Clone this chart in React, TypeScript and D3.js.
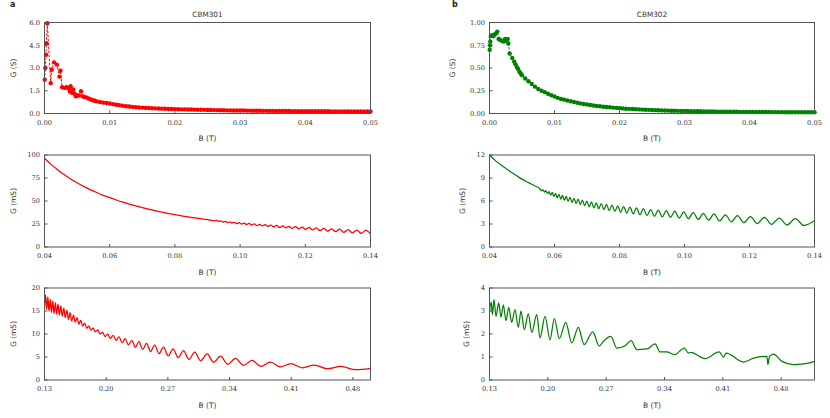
import React from "react";
import * as d3 from "d3";

// ---------- DATA ----------
// Panel a, top: CBM301, G (S) vs B (T), scattered points joined by a dashed line
const redTopB = [0.00003, 0.00012, 0.00023, 0.00028, 0.00043, 0.00095, 0.0011, 0.00146, 0.0019, 0.0023, 0.00245, 0.0027, 0.0031, 0.0034, 0.0037, 0.0039, 0.004, 0.0042, 0.0044, 0.0046, 0.0048, 0.0051, 0.0053, 0.0056, 0.0059, 0.0062, 0.0065, 0.0068, 0.0071, 0.0074, 0.0077];
const redTopG = [2.23, 3.0, 3.87, 4.64, 5.95, 2.0, 2.89, 3.37, 3.22, 2.43, 2.82, 1.73, 1.69, 1.73, 1.65, 1.44, 1.8, 1.36, 1.58, 1.3, 1.14, 1.2, 1.18, 1.47, 1.12, 1.08, 1.05, 0.98, 0.93, 0.88, 0.84];
const redTailStart = 0.008;
const redTailStep = 0.0005;
const redTailG = [0.8, 0.76, 0.72, 0.69, 0.66, 0.62, 0.58, 0.55, 0.51, 0.48, 0.46, 0.44, 0.42, 0.4, 0.39, 0.37, 0.36, 0.35, 0.34, 0.33, 0.32, 0.31, 0.3, 0.295, 0.29, 0.28, 0.275, 0.27, 0.265, 0.26, 0.255, 0.25, 0.245, 0.24, 0.235, 0.23, 0.225, 0.22, 0.215, 0.21, 0.208, 0.205, 0.202, 0.2, 0.197, 0.194, 0.19, 0.187, 0.184, 0.181, 0.178, 0.176, 0.174, 0.172, 0.17, 0.168, 0.166, 0.164, 0.162, 0.16, 0.158, 0.156, 0.155, 0.154, 0.152, 0.151, 0.15, 0.148, 0.147, 0.146, 0.145, 0.144, 0.142, 0.141, 0.14, 0.139, 0.138, 0.137, 0.136, 0.135, 0.134, 0.133, 0.132, 0.131, 0.13];

// Panel b, top: CBM302
const greenTopB = [0.00003, 0.00008, 0.00012, 0.0002, 0.0004, 0.0006, 0.0008, 0.001, 0.0012, 0.0014, 0.0016, 0.0019, 0.0022, 0.0024, 0.0026, 0.0028, 0.0029, 0.0031, 0.0035, 0.0038, 0.004, 0.0042, 0.0044, 0.0046, 0.0048];
const greenTopG = [0.7, 0.75, 0.79, 0.85, 0.86, 0.85, 0.87, 0.88, 0.9, 0.82, 0.81, 0.8, 0.79, 0.82, 0.8, 0.82, 0.77, 0.66, 0.61, 0.57, 0.54, 0.51, 0.49, 0.46, 0.44];
const greenTailStart = 0.005;
const greenTailStep = 0.0005;
const greenTailG = [0.42, 0.385, 0.355, 0.325, 0.295, 0.27, 0.25, 0.235, 0.217, 0.2, 0.186, 0.172, 0.16, 0.152, 0.143, 0.134, 0.126, 0.118, 0.111, 0.105, 0.099, 0.093, 0.088, 0.083, 0.079, 0.075, 0.071, 0.068, 0.065, 0.062, 0.059, 0.056, 0.053, 0.051, 0.049, 0.047, 0.045, 0.043, 0.041, 0.04, 0.038, 0.037, 0.036, 0.034, 0.033, 0.032, 0.031, 0.03, 0.029, 0.028, 0.027, 0.027, 0.026, 0.025, 0.025, 0.024, 0.023, 0.023, 0.022, 0.022, 0.021, 0.021, 0.02, 0.02, 0.019, 0.019, 0.019, 0.018, 0.018, 0.018, 0.017, 0.017, 0.017, 0.016, 0.016, 0.016, 0.016, 0.015, 0.015, 0.015, 0.015, 0.014, 0.014, 0.014, 0.014, 0.014, 0.013, 0.013, 0.013, 0.013, 0.013];

// Panel a, middle: G (mS), 0.04-0.14 T
const redMidB = [0.04, 0.042, 0.044, 0.046, 0.048, 0.05, 0.052, 0.054, 0.056, 0.058, 0.06, 0.062, 0.064, 0.066, 0.068, 0.07, 0.073, 0.076, 0.08, 0.085, 0.09,
  0.09223, 0.09286, 0.0935, 0.09415, 0.09481, 0.09548, 0.09616, 0.09685, 0.09755, 0.09826, 0.09898, 0.09971, 0.10045, 0.1012, 0.10197, 0.10274, 0.10353, 0.10433, 0.10514, 0.10597, 0.1068, 0.10765, 0.10852, 0.1094, 0.11029, 0.1112, 0.11212, 0.11306, 0.11401, 0.11498, 0.11597, 0.11697, 0.11799, 0.11903, 0.12009, 0.12117, 0.12227, 0.12338, 0.12452, 0.12568, 0.12685, 0.12806, 0.12928, 0.13053, 0.1318, 0.1331, 0.13443, 0.13578, 0.13715, 0.13856, 0.14];
const redMidG = [96.4, 89.8, 84.0, 78.7, 74.0, 69.8, 65.9, 62.4, 59.2, 56.2, 53.6, 51.1, 48.8, 46.6, 44.7, 42.8, 40.3, 38.0, 35.3, 32.3, 29.7,
  28.3, 28.85, 27.75, 28.4, 27.15, 27.9, 26.55, 27.4, 26.0, 26.9, 25.4, 26.5, 24.85, 26.05, 24.35, 25.65, 23.9, 25.2, 23.35, 24.7, 22.85, 24.3, 22.3, 23.85, 21.8, 23.4, 21.2, 23.0, 20.7, 22.55, 20.2, 22.1, 19.7, 21.7, 19.15, 21.2, 18.5, 20.7, 17.8, 20.2, 17.2, 19.8, 16.6, 19.3, 16.0, 18.9, 15.4, 18.4, 14.8, 18.05, 14.3];

// Panel b, middle
const greenMidB = [0.04, 0.042, 0.044, 0.046, 0.048, 0.05, 0.052, 0.054, 0.0555,
  0.05599, 0.05644, 0.0569, 0.05736, 0.05784, 0.05832, 0.05881, 0.0593, 0.05981, 0.06032, 0.06085, 0.06138, 0.06192, 0.06247, 0.06303, 0.0636, 0.06418, 0.06478, 0.06538, 0.066, 0.06662, 0.06726, 0.06791, 0.06857, 0.06925, 0.06994, 0.07065, 0.07136, 0.0721, 0.07285, 0.07361, 0.07439, 0.07519, 0.076, 0.07683, 0.07768, 0.07855, 0.07944, 0.08035, 0.08128, 0.08224, 0.08321, 0.08421, 0.08523, 0.08628, 0.08736, 0.08846, 0.08959, 0.09074, 0.09193, 0.09315, 0.09441, 0.09569, 0.09702, 0.09838, 0.09978, 0.10121, 0.1027, 0.10422, 0.10579, 0.10741, 0.10908, 0.1108, 0.11258, 0.11442, 0.11631, 0.11827, 0.1203, 0.1224, 0.12457, 0.12682, 0.12916, 0.13158, 0.13409, 0.13671, 0.14];
const greenMidG = [12.0, 11.2, 10.55, 9.95, 9.4, 8.85, 8.4, 7.95, 7.6,
  7.33, 7.5, 7.15, 7.36, 6.96, 7.23, 6.77, 7.11, 6.59, 7.01, 6.42, 6.87, 6.26, 6.73, 6.11, 6.6, 5.96, 6.47, 5.81, 6.35, 5.67, 6.23, 5.54, 6.11, 5.39, 6.0, 5.24, 5.88, 5.11, 5.77, 4.99, 5.67, 4.86, 5.57, 4.74, 5.46, 4.64, 5.38, 4.53, 5.28, 4.43, 5.19, 4.32, 5.09, 4.22, 4.99, 4.1, 4.89, 4.01, 4.81, 3.93, 4.74, 3.86, 4.67, 3.77, 4.59, 3.68, 4.5, 3.59, 4.4, 3.5, 4.31, 3.4, 4.2, 3.29, 4.09, 3.17, 3.97, 3.06, 3.87, 2.96, 3.77, 2.88, 3.71, 2.81, 3.42];

// Panel a, bottom: 0.13-0.50 T
const redLowB = [0.13, 0.1312, 0.1325, 0.1338, 0.1352, 0.1365, 0.1379, 0.1394, 0.1408, 0.1423, 0.1438, 0.1453, 0.1469, 0.1485, 0.1502, 0.1519, 0.1536, 0.1554, 0.1572, 0.159, 0.1609, 0.1629, 0.1649, 0.1669, 0.169, 0.1711, 0.1733, 0.1756, 0.1779, 0.1802, 0.1827, 0.1852, 0.1878, 0.1904, 0.1931, 0.1959, 0.1988, 0.2018, 0.2048, 0.208, 0.2112, 0.2146, 0.2181, 0.2216, 0.2253, 0.2291, 0.2331, 0.2372, 0.2414, 0.2458, 0.2504, 0.2551, 0.26, 0.2651, 0.2704, 0.2759, 0.2817, 0.2877, 0.2939, 0.3005, 0.3073, 0.3145, 0.322, 0.3298, 0.3381, 0.3467, 0.3559, 0.3655, 0.3757, 0.3864, 0.3978, 0.4098, 0.4227, 0.4363, 0.4509, 0.4664, 0.4831, 0.5];
const redLowG = [15.7, 18.49, 15.33, 18.05, 14.95, 17.54, 14.7, 17.18, 14.42, 16.82, 14.34, 16.51, 14.1, 16.11, 13.88, 15.65, 13.54, 15.15, 13.18, 14.63, 12.82, 14.1, 12.56, 13.57, 12.17, 12.97, 11.72, 12.38, 11.25, 11.73, 10.85, 11.3, 10.47, 10.87, 10.04, 10.37, 9.46, 9.99, 9.06, 9.69, 8.62, 9.35, 8.09, 8.97, 7.62, 8.64, 7.1, 8.32, 6.63, 7.94, 6.18, 7.59, 5.72, 7.16, 5.23, 6.74, 4.85, 6.37, 4.48, 6.04, 4.18, 5.66, 3.85, 5.18, 3.4, 4.68, 3.16, 4.27, 2.94, 3.88, 2.84, 3.55, 2.66, 3.23, 2.45, 2.96, 2.23, 2.55];

// Panel b, bottom: 0.13-0.52 T
const greenLowB = [0.13, 0.132, 0.1335, 0.1354, 0.1378, 0.141, 0.1438, 0.1466, 0.1498, 0.1531, 0.1567, 0.1606, 0.1646, 0.1678, 0.1718, 0.1766, 0.1807, 0.1867, 0.1906, 0.1966, 0.2026, 0.2078, 0.2138, 0.2215, 0.2287, 0.2366, 0.2435, 0.2539, 0.2618, 0.2666, 0.2755, 0.2827, 0.2927, 0.2999, 0.3068, 0.3188, 0.3287, 0.3347, 0.3428, 0.3519, 0.3639, 0.3687, 0.3716, 0.3888, 0.4056, 0.4108, 0.414, 0.4348, 0.4468, 0.4629, 0.4641, 0.466, 0.4708, 0.4809, 0.4948, 0.5068, 0.52];
const greenLowG = [2.95, 3.4, 2.85, 3.49, 2.77, 3.35, 2.73, 3.27, 2.58, 3.16, 2.51, 3.06, 2.29, 2.99, 2.19, 2.87, 2.07, 2.84, 1.83, 2.77, 1.75, 2.67, 1.8, 2.51, 1.61, 2.29, 1.54, 2.09, 1.47, 1.68, 1.9, 1.39, 1.49, 1.71, 1.32, 1.35, 1.57, 1.22, 1.22, 1.1, 1.39, 1.17, 1.2, 0.93, 1.22, 1.0, 1.17, 0.78, 0.95, 1.03, 0.67, 1.03, 1.13, 0.81, 0.67, 0.7, 0.81];

// Tick values
const topXTicks = [0, 0.01, 0.02, 0.03, 0.04, 0.05];
const midXTicks = [0.04, 0.06, 0.08, 0.1, 0.12, 0.14];
const lowXTicks = [0.13, 0.2, 0.27, 0.34, 0.41, 0.48];
const redTopYTicks = [0, 1.5, 3, 4.5, 6];
const greenTopYTicks = [0, 0.25, 0.5, 0.75, 1];
const redMidYTicks = [0, 25, 50, 75, 100];
const greenMidYTicks = [0, 3, 6, 9, 12];
const redLowYTicks = [0, 5, 10, 15, 20];
const greenLowYTicks = [0, 1, 2, 3, 4];

const RED = "#ff0000";
const GREEN = "#008000";
const FRAME = "#555";
const TXT = "#333";
const SERIF = "'DejaVu Serif', serif";
const SANS = "'DejaVu Sans', sans-serif";

type Spec = {
  x0: number; y0: number; w: number; h: number;
  xDomain: [number, number]; yDomain: [number, number];
  xTicks: number[]; yTicks: number[]; xFmt: string; yFmt: string;
  yLabel: string; yLabelX: number; title?: string;
  color: string; B: number[]; G: number[]; kind: "scatter" | "line";
};

function Panel({ s }: { s: Spec }) {
  const x = d3.scaleLinear().domain(s.xDomain).range([s.x0, s.x0 + s.w]);
  const y = d3.scaleLinear().domain(s.yDomain).range([s.y0 + s.h, s.y0]);
  const pts = s.B.map((b, i) => [b, s.G[i]] as [number, number]);
  const fx = d3.format(s.xFmt);
  const fy = d3.format(s.yFmt);
  const bottom = s.y0 + s.h;
  const cx = s.x0 + s.w / 2;
  let dataEl: React.ReactNode;
  if (s.kind === "line") {
    const line = d3.line<[number, number]>().x(d => x(d[0])).y(d => y(d[1])).curve(d3.curveMonotoneX);
    dataEl = <path d={line(pts) || ""} fill="none" stroke={s.color} strokeWidth={1.25} strokeLinejoin="round" />;
  } else {
    const line = d3.line<[number, number]>().x(d => x(d[0])).y(d => y(d[1]));
    dataEl = (
      <g>
        <path d={line(pts) || ""} fill="none" stroke={s.color} strokeWidth={1} strokeDasharray="2.5,1.5" />
        {pts.map((p, i) => <circle key={i} cx={x(p[0])} cy={y(p[1])} r={2.2} fill={s.color} />)}
      </g>
    );
  }
  return (
    <g>
      {dataEl}
      <rect x={s.x0} y={s.y0} width={s.w} height={s.h} fill="none" stroke={FRAME} strokeWidth={1} />
      {s.xTicks.map((t, i) => (
        <g key={"x" + i}>
          <line x1={x(t)} x2={x(t)} y1={bottom} y2={bottom - 3} stroke={FRAME} strokeWidth={1} />
          <text x={x(t)} y={bottom + 11} textAnchor="middle" fontFamily={SERIF} fontSize={6.7} fill={TXT}>{fx(t)}</text>
        </g>
      ))}
      {s.yTicks.map((t, i) => (
        <g key={"y" + i}>
          <line x1={s.x0} x2={s.x0 + 3} y1={y(t)} y2={y(t)} stroke={FRAME} strokeWidth={1} />
          <text x={s.x0 - 4.5} y={y(t)} dy="0.35em" textAnchor="end" fontFamily={SERIF} fontSize={6.7} fill={TXT}>{fy(t)}</text>
        </g>
      ))}
      <text x={cx} y={bottom + 27.5} textAnchor="middle" fontFamily={SANS} fontSize={7.5} fill={TXT}>B (T)</text>
      <text transform={`translate(${s.yLabelX},${s.y0 + s.h / 2}) rotate(-90)`} dy="0.35em" textAnchor="middle" fontFamily={SANS} fontSize={7.5} fill={TXT}>{s.yLabel}</text>
      {s.title && <text x={cx} y={s.y0 - 6} textAnchor="middle" fontFamily={SANS} fontSize={7.3} fill={TXT}>{s.title}</text>}
    </g>
  );
}

export default function App() {
  const LX = 44.5, RX = 489.5, LW = 326, RW = 325;
  const redTopAllB = [...redTopB, ...redTailG.map((_, i) => redTailStart + i * redTailStep)];
  const redTopAllG = [...redTopG, ...redTailG];
  const greenTopAllB = [...greenTopB, ...greenTailG.map((_, i) => greenTailStart + i * greenTailStep)];
  const greenTopAllG = [...greenTopG, ...greenTailG];
  const specs: Spec[] = [
    { x0: LX, y0: 22.5, w: LW, h: 91, xDomain: [0, 0.05], yDomain: [0, 6], xTicks: topXTicks, yTicks: redTopYTicks, xFmt: ".2f", yFmt: ".1f", yLabel: "G (S)", yLabelX: 13, title: "CBM301", color: RED, B: redTopAllB, G: redTopAllG, kind: "scatter" },
    { x0: RX, y0: 22.5, w: RW, h: 91, xDomain: [0, 0.05], yDomain: [0, 1], xTicks: topXTicks, yTicks: greenTopYTicks, xFmt: ".2f", yFmt: ".2f", yLabel: "G (S)", yLabelX: 452.7, title: "CBM302", color: GREEN, B: greenTopAllB, G: greenTopAllG, kind: "scatter" },
    { x0: LX, y0: 155, w: LW, h: 92, xDomain: [0.04, 0.14], yDomain: [0, 100], xTicks: midXTicks, yTicks: redMidYTicks, xFmt: ".2f", yFmt: "d", yLabel: "G (mS)", yLabelX: 13.3, color: RED, B: redMidB, G: redMidG, kind: "line" },
    { x0: RX, y0: 155, w: RW, h: 92, xDomain: [0.04, 0.14], yDomain: [0, 12], xTicks: midXTicks, yTicks: greenMidYTicks, xFmt: ".2f", yFmt: "d", yLabel: "G (mS)", yLabelX: 462.7, color: GREEN, B: greenMidB, G: greenMidG, kind: "line" },
    { x0: LX, y0: 288, w: LW, h: 92, xDomain: [0.13, 0.5], yDomain: [0, 20], xTicks: lowXTicks, yTicks: redLowYTicks, xFmt: ".2f", yFmt: "d", yLabel: "G (mS)", yLabelX: 13.3, color: RED, B: redLowB, G: redLowG, kind: "line" },
    { x0: RX, y0: 288, w: RW, h: 92, xDomain: [0.13, 0.52], yDomain: [0, 4], xTicks: lowXTicks, yTicks: greenLowYTicks, xFmt: ".2f", yFmt: "d", yLabel: "G (mS)", yLabelX: 466.7, color: GREEN, B: greenLowB, G: greenLowG, kind: "line" },
  ];
  return (
    <svg width={830} height={418} style={{ position: "absolute", left: 0, top: 0, background: "#fff" }}>
      <rect width={830} height={418} fill="#fff" />
      {specs.map((s, i) => <Panel key={i} s={s} />)}
      <text x={10} y={7} fontFamily={SANS} fontWeight="bold" fontSize={8} fill="#222">a</text>
      <text x={452} y={7} fontFamily={SANS} fontWeight="bold" fontSize={8} fill="#222">b</text>
    </svg>
  );
}
